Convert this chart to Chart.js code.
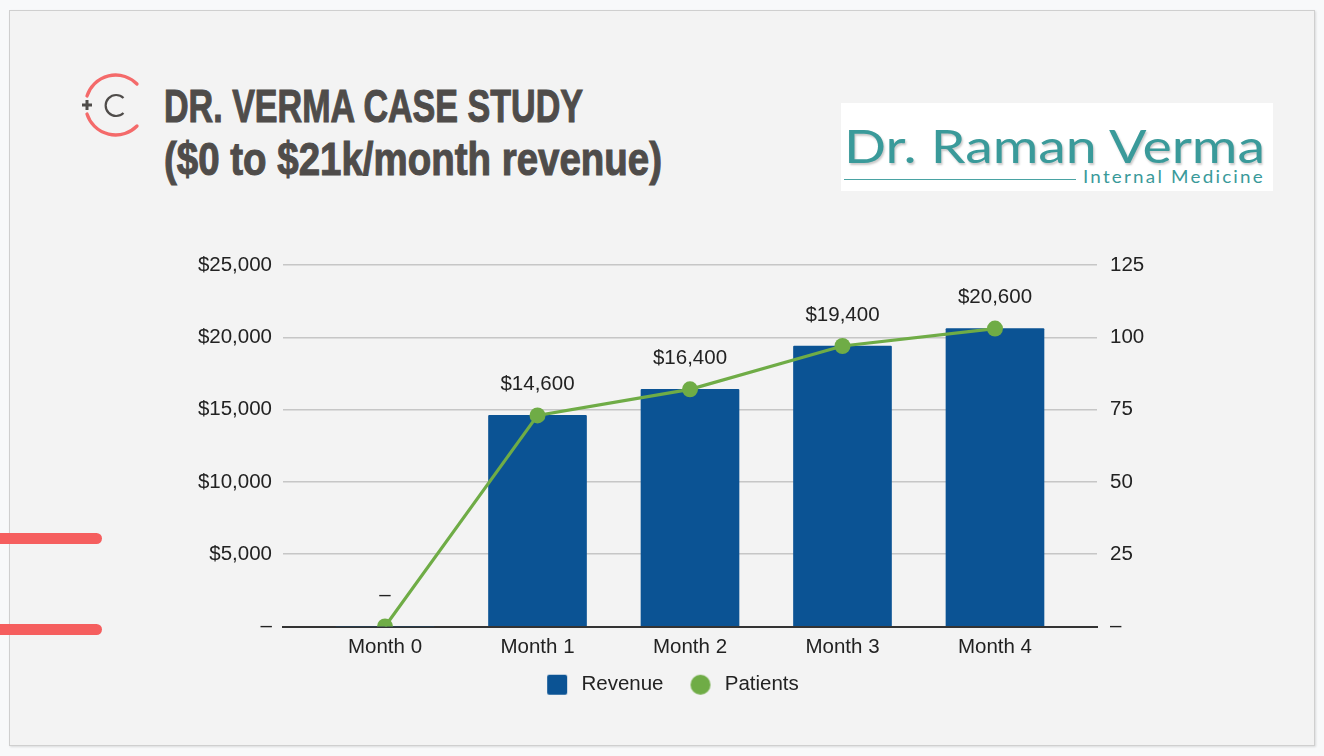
<!DOCTYPE html>
<html>
<head>
<meta charset="utf-8">
<title>Dr. Verma Case Study</title>
<script src="https://cdn.jsdelivr.net/npm/chart.js@4"></script>
<style>
html,body{margin:0;padding:0;width:1324px;height:756px;overflow:hidden;background:#f8f9fa;}
#slide{position:absolute;left:9px;top:10px;width:1304px;height:734px;background:#f3f3f3;border:1px solid #cfcfcf;box-shadow:1px 1px 2px rgba(0,0,0,.12);}
.tick{position:absolute;left:0;width:102px;height:11px;background:#f55e5e;border-radius:0 6px 6px 0;}
.title{position:absolute;left:164px;color:#4f4c4a;font-family:"Liberation Sans Narrow","Liberation Sans",sans-serif;font-weight:700;font-size:46px;line-height:52px;white-space:nowrap;-webkit-text-stroke:1.1px #4f4c4a;transform-origin:0 0;}
#logoBox{position:absolute;left:841px;top:103px;width:432px;height:88px;background:#fff;}
#logoName{position:absolute;left:3px;top:10px;font-family:Lato,sans-serif;font-size:47px;line-height:64px;color:#3a9a9a;white-space:nowrap;text-shadow:1px 2px 2px rgba(0,0,0,.22);transform-origin:0 0;}
#logoSub{position:absolute;left:242px;top:63px;font-family:Lato,sans-serif;font-size:17px;line-height:22px;color:#3a9a9a;letter-spacing:2px;white-space:nowrap;transform-origin:0 0;}
#logoRule{position:absolute;left:3px;top:76px;width:232px;height:1px;background:#4aa3a3;}
#chartWrap{position:absolute;left:142px;top:230px;width:1045px;height:475px;}
svg{position:absolute;left:0;top:0;}
</style>
</head>
<body>
<div id="slide"></div>
<div class="tick" style="top:533px"></div>
<div class="tick" style="top:624px"></div>
<svg width="160" height="160" viewBox="0 0 160 160">
  <path d="M87 96 A30 30 0 0 1 137 84" fill="none" stroke="#f46a6a" stroke-width="3.3" stroke-linecap="round"/>
  <path d="M87 114 A30 30 0 0 0 137 126" fill="none" stroke="#f46a6a" stroke-width="3.3" stroke-linecap="round"/>
  <path d="M123.5 98 A10.5 10.5 0 1 0 123.5 113" fill="none" stroke="#4f4c4a" stroke-width="2.2"/>
  <path d="M82 105 H92 M87 100 V110" fill="none" stroke="#4f4c4a" stroke-width="3"/>
</svg>
<div class="title" id="t1" style="top:80px">DR. VERMA CASE STUDY</div>
<div class="title" id="t2" style="top:133px">($0 to $21k/month revenue)</div>
<div id="logoBox">
  <div id="logoName">Dr. Raman Verma</div>
  <div id="logoRule"></div>
  <div id="logoSub">Internal Medicine</div>
</div>
<div id="chartWrap"><canvas id="c"></canvas></div>
<script>
const categories = ["Month 0","Month 1","Month 2","Month 3","Month 4"];
const revenue = [0,14600,16400,19400,20600];
const patients = [0,73,82,97,103];
const revenueAxisMax = 25000;
const revenueAxisStep = 5000;
const patientsAxisMax = 125;
const patientsAxisStep = 25;

const BLUE = "#0b5394", GREEN = "#6fac46", TEXT = "#222222";
const FONT = {family:'"Liberation Sans",Arial,sans-serif', size:20.5};
const money = v => v === 0 ? "\u2013" : "$" + Number(v).toLocaleString("en-US");

function fit(id, width){
  const el = document.getElementById(id);
  el.style.transform = "scaleX(" + (width / el.getBoundingClientRect().width) + ")";
}
fit("t1", 419); fit("t2", 498); fit("logoName", 421); fit("logoSub", 182);

function swatch(draw){
  const cv = document.createElement("canvas");
  cv.width = 41; cv.height = 22;
  draw(cv.getContext("2d"));
  return cv;
}
const revSwatch = swatch(g => { g.fillStyle = BLUE; g.beginPath(); g.roundRect(17,1,20,20,2); g.fill(); });
const patSwatch = swatch(g => { g.fillStyle = GREEN; g.beginPath(); g.arc(27,11,10,0,Math.PI*2); g.fill(); });

const valueLabels = {
  id:"valueLabels",
  afterDatasetsDraw(chart){
    const idx = chart.data.datasets.findIndex(d => d.type === "bar");
    const ctx = chart.ctx;
    ctx.save();
    ctx.font = FONT.size + "px " + FONT.family;
    ctx.fillStyle = TEXT;
    ctx.textAlign = "center";
    ctx.textBaseline = "middle";
    chart.getDatasetMeta(idx).data.forEach((el,i) => {
      ctx.fillText(money(revenue[i]), el.x, el.y - 31);
    });
    ctx.restore();
  }
};

new Chart(document.getElementById("c"), {
  data:{
    datasets:[
      {type:"line",label:"Patients",yAxisID:"yR",order:1,
       data:patients.map((v,i)=>({x:i,y:v})),
       borderColor:GREEN,backgroundColor:GREEN,borderWidth:3.2,tension:0,
       pointRadius:8,pointHoverRadius:8,pointBackgroundColor:GREEN,pointBorderWidth:0},
      {type:"bar",label:"Revenue",yAxisID:"yL",order:2,
       data:revenue.map((v,i)=>({x:i,y:v})),
       backgroundColor:BLUE,barThickness:98,borderRadius:{topLeft:1,topRight:1}}
    ]
  },
  options:{
    responsive:true,maintainAspectRatio:false,animation:false,
    layout:{padding:{top:35,left:0,right:0,bottom:0}},
    plugins:{
      tooltip:{enabled:false},
      legend:{
        position:"bottom",
        labels:{
          usePointStyle:true,pointStyleWidth:41,boxHeight:20,padding:10,
          color:TEXT,font:FONT,
          generateLabels(){
            return [
              {text:"Revenue",pointStyle:revSwatch,fontColor:TEXT,datasetIndex:1,hidden:false,lineWidth:0},
              {text:"Patients",pointStyle:patSwatch,fontColor:TEXT,datasetIndex:0,hidden:false,lineWidth:0}
            ];
          }
        }
      }
    },
    scales:{
      x:{
        type:"linear",min:-0.669,max:4.669,offset:false,
        afterBuildTicks(s){ s.ticks = categories.map((_,i)=>({value:i})); },
        afterFit(s){ s.height = 38; },
        grid:{display:false,drawTicks:false},
        border:{display:true,color:"#333333",width:2},
        ticks:{autoSkip:false,maxRotation:0,padding:9,color:TEXT,font:FONT,
               callback:v=>categories[v]}
      },
      yL:{
        position:"left",min:0,max:revenueAxisMax,
        afterFit(s){ s.width = 141; },
        grid:{color:"#c6c6c6",lineWidth:1.5,drawTicks:false},
        border:{display:false},
        ticks:{stepSize:revenueAxisStep,padding:11,color:TEXT,font:FONT,callback:money}
      },
      yR:{
        position:"right",min:0,max:patientsAxisMax,
        afterFit(s){ s.width = 90; },
        grid:{display:false,drawTicks:false},
        border:{display:false},
        ticks:{stepSize:patientsAxisStep,padding:13,color:TEXT,font:FONT,
               callback:v=>v===0?"\u2013":v}
      }
    }
  },
  plugins:[valueLabels]
});
</script>
</body>
</html>
